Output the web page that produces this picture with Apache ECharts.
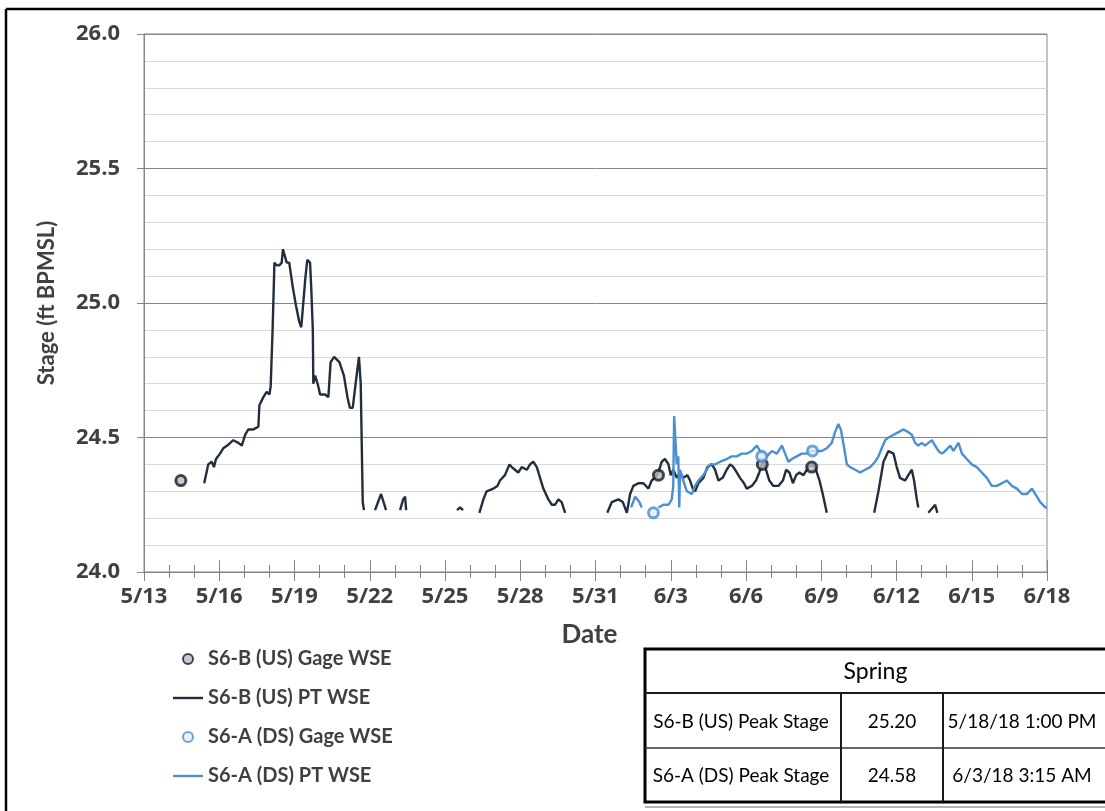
<!DOCTYPE html>
<html>
<head>
<meta charset="utf-8">
<script src="https://cdn.jsdelivr.net/npm/echarts@6/dist/echarts.min.js"></script>
<style>
  html, body { margin: 0; padding: 0; background: #ffffff; }
  #chart { width: 1105px; height: 811px; }
</style>
</head>
<body>
<div id="chart"></div>
<script>
// Time is expressed as days after 5/13/2018 00:00; null separates sensor gaps.
const tickLabels = ['5/13','5/16','5/19','5/22','5/25','5/28','5/31','6/3','6/6','6/9','6/12','6/15','6/18'];

// S6-B (US) pressure transducer water surface elevation
const usPtDay = [
  2.40,2.56,2.70,2.79,2.87,3.03,3.16,3.32,3.56,3.76,3.90,4.03,4.16,4.36,4.56,4.60,4.76,4.89,5.00,5.05,
  5.13,5.20,5.29,5.39,5.49,5.54,5.69,5.79,5.93,6.06,6.19,6.27,6.35,6.43,6.51,6.62,6.67,6.73,6.75,6.82,
  6.89,6.95,7.02,7.22,7.35,7.44,7.58,7.79,7.97,8.11,8.21,8.32,8.45,8.57,8.64,8.72,8.77, null,
  9.21,9.45,9.65, null,
  10.21,10.33,10.41,10.45, null,
  12.48,12.60,12.72, null,
  13.37,13.53,13.66,13.93,14.09,14.19,14.39,14.57,14.66,14.79,14.92,15.06,15.26,15.39,15.52,15.66,15.79,
  15.92,16.12,16.26,16.39,16.52,16.65,16.79, null,
  18.47,18.65,18.91,19.09,19.25,19.38,19.51,19.71,19.91,20.11,20.24,20.37,20.51,20.64,20.77,20.91,21.00,
  21.10,21.24,21.37,21.50,21.66,21.77,21.88,21.97,22.10,22.30,22.46,22.64,22.77,22.90,23.07,23.23,23.37,
  23.50,23.63,23.76,23.92,24.03,24.23,24.40,24.53,24.67,24.80,24.93,25.09,25.29,25.47,25.60,25.73,25.87,
  26.00,26.13,26.29,26.49,26.66,26.79,26.93,27.06,27.22, null,
  29.11,29.28,29.48,29.68,29.88,30.01,30.14,30.34,30.47,30.61,30.70,30.81,30.87, null,
  31.27,31.45,31.54,31.63
];
const usPtStage = [
  24.33,24.40,24.41,24.39,24.42,24.44,24.46,24.47,24.49,24.48,24.47,24.51,24.53,24.53,24.54,24.62,24.65,24.67,24.66,24.69,
  24.91,25.15,25.14,25.14,25.15,25.20,25.15,25.15,25.06,24.99,24.93,24.91,25.00,25.09,25.16,25.15,25.05,24.90,24.70,24.73,
  24.71,24.69,24.66,24.66,24.65,24.78,24.80,24.78,24.73,24.65,24.61,24.61,24.71,24.80,24.70,24.26,24.23, null,
  24.23,24.29,24.23, null,
  24.23,24.27,24.28,24.23, null,
  24.23,24.24,24.23, null,
  24.22,24.27,24.30,24.31,24.32,24.34,24.36,24.40,24.39,24.38,24.37,24.39,24.38,24.40,24.41,24.39,24.35,
  24.31,24.27,24.25,24.25,24.27,24.26,24.22, null,
  24.22,24.26,24.27,24.26,24.22,24.29,24.32,24.33,24.33,24.31,24.34,24.35,24.37,24.41,24.42,24.40,24.36,
  24.38,24.35,24.37,24.35,24.36,24.34,24.31,24.30,24.33,24.35,24.39,24.40,24.38,24.34,24.35,24.38,24.40,
  24.39,24.37,24.35,24.33,24.31,24.32,24.34,24.37,24.41,24.38,24.34,24.32,24.32,24.34,24.38,24.37,24.33,
  24.36,24.37,24.36,24.39,24.40,24.38,24.34,24.29,24.22, null,
  24.22,24.30,24.41,24.45,24.44,24.39,24.35,24.34,24.36,24.38,24.34,24.27,24.24, null,
  24.22,24.24,24.25,24.22
];

// S6-A (DS) pressure transducer water surface elevation
const dsPtDay = [
  19.42,19.58,19.75,19.84, null,
  20.51,20.71,20.91,21.04,21.10,21.135,21.18,21.24,21.30,21.34,21.37,21.50,21.64,21.84,21.97,22.10,22.30,
  22.57,22.77,22.97,23.23,23.43,23.63,23.83,24.03,24.23,24.43,24.56,24.69,24.83,25.03,25.23,25.43,25.56,
  25.69,25.83,26.02,26.22,26.42,26.62,26.82,27.02,27.22,27.42,27.55,27.68,27.78,27.86,27.95,28.02,28.15,
  28.35,28.55,28.75,28.95,29.15,29.28,29.41,29.55,29.68,29.88,30.08,30.28,30.47,30.61,30.74,30.87,31.01,
  31.14,31.27,31.41,31.54,31.67,31.81,31.94,32.14,32.27,32.47,32.61,32.80,33.00,33.20,33.40,33.60,33.80,
  34.00,34.20,34.40,34.60,34.80,35.00,35.20,35.40,35.53,35.73,35.93,36.00
];
const dsPtStage = [
  24.24,24.28,24.26,24.24, null,
  24.24,24.25,24.25,24.27,24.32,24.58,24.58,24.40,24.43,24.24,24.38,24.34,24.30,24.29,24.32,24.34,24.36,
  24.40,24.40,24.41,24.42,24.43,24.43,24.44,24.44,24.45,24.47,24.45,24.44,24.43,24.45,24.44,24.47,24.44,
  24.41,24.42,24.43,24.44,24.44,24.45,24.45,24.45,24.46,24.48,24.52,24.55,24.53,24.49,24.44,24.40,24.39,
  24.38,24.37,24.38,24.39,24.41,24.43,24.46,24.49,24.50,24.51,24.52,24.53,24.52,24.51,24.48,24.47,24.48,
  24.47,24.48,24.49,24.47,24.45,24.44,24.45,24.47,24.45,24.48,24.44,24.42,24.40,24.39,24.37,24.35,24.32,
  24.32,24.33,24.34,24.32,24.31,24.29,24.29,24.31,24.29,24.26,24.24,24.24
];

// Manual gage readings
const usGageDay = [1.47, 20.51, 24.65, 26.62];
const usGageStage = [24.34, 24.36, 24.40, 24.39];
const dsGageDay = [20.31, 24.63, 26.65];
const dsGageStage = [24.22, 24.43, 24.45];

// Peak stage summary table
const peakSite = ['S6-B (US) Peak Stage', 'S6-A (DS) Peak Stage'];
const peakStage = ['25.20', '24.58'];
const peakTime = ['5/18/18 1:00 PM', '6/3/18 3:15 AM'];

const seriesNames = ['S6-B (US) Gage WSE', 'S6-B (US) PT WSE', 'S6-A (DS) Gage WSE', 'S6-A (DS) PT WSE'];

function pairs(days, stages) {
  return days.map((d, i) => (d === null || stages[i] === null) ? '-' : [d, stages[i]]);
}

const darkLine = '#222e3f';
const blueLine = '#4a8fd2';
const labelColor = '#404040';
const axisGray = '#868686';
const lineIcon = 'path://M0 0H30V2.4H0Z';

const chart = echarts.init(document.getElementById('chart'), null, { renderer: 'canvas' });

const xBase = {
  type: 'value', min: 0, max: 36, interval: 3, gridIndex: 0, position: 'bottom',
  splitLine: { show: false }
};

// Table geometry
const tL = 645, tT = 649, tR = 1112, tB = 802, rowA = 693, rowB = 748, colA = 841, colB = 943;
const thin = { stroke: '#1a1a1a', lineWidth: 2 };
const cellFont = '19px Lato';
const tableGraphic = [
  { type: 'rect', shape: { x: tL, y: tT, width: tR - tL, height: tB - tT }, style: { fill: '#ffffff', stroke: '#000000', lineWidth: 3 }, z: 10 },
  { type: 'line', shape: { x1: tL, y1: rowA, x2: tR, y2: rowA }, style: thin, z: 11 },
  { type: 'line', shape: { x1: tL, y1: rowB, x2: tR, y2: rowB }, style: { stroke: '#333333', lineWidth: 1.5 }, z: 11 },
  { type: 'line', shape: { x1: colA, y1: rowA, x2: colA, y2: tB }, style: thin, z: 11 },
  { type: 'line', shape: { x1: colB, y1: rowA, x2: colB, y2: tB }, style: thin, z: 11 },
  { type: 'line', shape: { x1: tL, y1: tB + 5, x2: tR, y2: tB + 5 }, style: { stroke: '#9a9a9a', lineWidth: 1.5 }, z: 11 },
  { type: 'text', x: (tL + tR) / 2 - 3, y: (tT + rowA) / 2 + 1, style: { text: 'Spring', font: '23px Lato', fill: '#000', align: 'center', verticalAlign: 'middle' }, z: 12 }
];
[rowA, rowB].forEach((top, i) => {
  const bottom = i === 0 ? rowB : tB;
  const cy = (top + bottom) / 2 + 1;
  tableGraphic.push(
    { type: 'text', x: (tL + colA) / 2 - 2, y: cy, style: { text: peakSite[i], font: cellFont, fill: '#000', align: 'center', verticalAlign: 'middle' }, z: 12 },
    { type: 'text', x: (colA + colB) / 2, y: cy, style: { text: peakStage[i], font: cellFont, fill: '#000', align: 'center', verticalAlign: 'middle' }, z: 12 },
    { type: 'text', x: 1022, y: cy, style: { text: peakTime[i], font: cellFont, fill: '#000', align: 'center', verticalAlign: 'middle' }, z: 12 }
  );
});

// Frame around the figure (top and left edges)
const frameGraphic = [
  { type: 'line', shape: { x1: 6, y1: 9, x2: 1105, y2: 9 }, style: { stroke: '#000', lineWidth: 2.5 }, z: 20 },
  { type: 'line', shape: { x1: 6, y1: 9, x2: 6, y2: 811 }, style: { stroke: '#000', lineWidth: 2.5 }, z: 20 }
];

const option = {
  animation: false,
  backgroundColor: '#ffffff',
  grid: { left: 144, right: 58, top: 34, bottom: 239, show: true, borderColor: axisGray, borderWidth: 1, backgroundColor: 'transparent' },
  legend: {
    data: [
      { name: seriesNames[0], icon: 'circle' },
      { name: seriesNames[1], icon: lineIcon },
      { name: seriesNames[2], icon: 'circle' },
      { name: seriesNames[3], icon: lineIcon }
    ],
    orient: 'vertical',
    left: 168, top: 644,
    itemWidth: 30, itemHeight: 10, itemGap: 19,
    textStyle: { fontFamily: 'Lato', fontWeight: 'bold', fontSize: 20, color: labelColor, lineHeight: 20 }
  },
  xAxis: [
    Object.assign({}, xBase, {
      name: 'Date', nameLocation: 'middle', nameGap: 50,
      nameTextStyle: { fontFamily: 'Lato', fontWeight: 'bold', fontSize: 26, color: labelColor, padding: [0, 12, 0, 0] },
      axisLine: { show: true, lineStyle: { color: axisGray, width: 1 } },
      axisTick: { show: true, length: 9, lineStyle: { color: axisGray } },
      minorTick: { show: true, splitNumber: 3, length: 6, lineStyle: { color: axisGray } },
      axisLabel: {
        margin: 14, color: labelColor, fontFamily: 'Open Sans', fontWeight: 'bold', fontSize: 22,
        formatter: v => tickLabels[Math.round(v / 3)] || ''
      }
    }),
    Object.assign({}, xBase, {
      axisLine: { show: false },
      axisTick: { show: true, inside: true, length: 12, lineStyle: { color: axisGray } },
      minorTick: { show: true, splitNumber: 3, length: 7, lineStyle: { color: axisGray } },
      axisLabel: { show: false }
    })
  ],
  yAxis: {
    type: 'value', min: 24, max: 26, interval: 0.5,
    name: 'Stage (ft BPMSL)', nameLocation: 'middle', nameGap: 86, nameRotate: 90,
    nameTextStyle: { fontFamily: 'Lato', fontWeight: 'bold', fontSize: 22, color: labelColor },
    axisLine: { show: true, lineStyle: { color: axisGray, width: 1 } },
    axisTick: { show: true, length: 7, lineStyle: { color: axisGray } },
    axisLabel: {
      margin: 24, color: labelColor, fontFamily: 'Open Sans', fontWeight: 'bold', fontSize: 22,
      formatter: v => v.toFixed(1)
    },
    splitLine: { show: true, lineStyle: { color: axisGray, width: 1 } },
    minorTick: { show: false, splitNumber: 5 },
    minorSplitLine: { show: true, lineStyle: { color: '#d9d9d9', width: 1 } }
  },
  series: [
    {
      name: seriesNames[0], type: 'scatter', xAxisIndex: 0, symbol: 'circle', symbolSize: 10, z: 5,
      itemStyle: { color: '#b9bec6', borderColor: '#141b26', borderWidth: 3 },
      data: pairs(usGageDay, usGageStage)
    },
    {
      name: seriesNames[1], type: 'line', xAxisIndex: 0, symbol: 'none', showSymbol: false, z: 3,
      lineStyle: { color: darkLine, width: 2.4 }, itemStyle: { color: darkLine },
      connectNulls: false,
      data: pairs(usPtDay, usPtStage)
    },
    {
      name: seriesNames[2], type: 'scatter', xAxisIndex: 0, symbol: 'circle', symbolSize: 10, z: 5,
      itemStyle: { color: '#e4eef8', borderColor: blueLine, borderWidth: 3 },
      data: pairs(dsGageDay, dsGageStage)
    },
    {
      name: seriesNames[3], type: 'line', xAxisIndex: 0, symbol: 'none', showSymbol: false, z: 4,
      lineStyle: { color: blueLine, width: 2.4 }, itemStyle: { color: blueLine },
      connectNulls: false,
      data: pairs(dsPtDay, dsPtStage)
    }
  ],
  graphic: tableGraphic.concat(frameGraphic)
};

chart.setOption(option);
</script>
</body>
</html>
